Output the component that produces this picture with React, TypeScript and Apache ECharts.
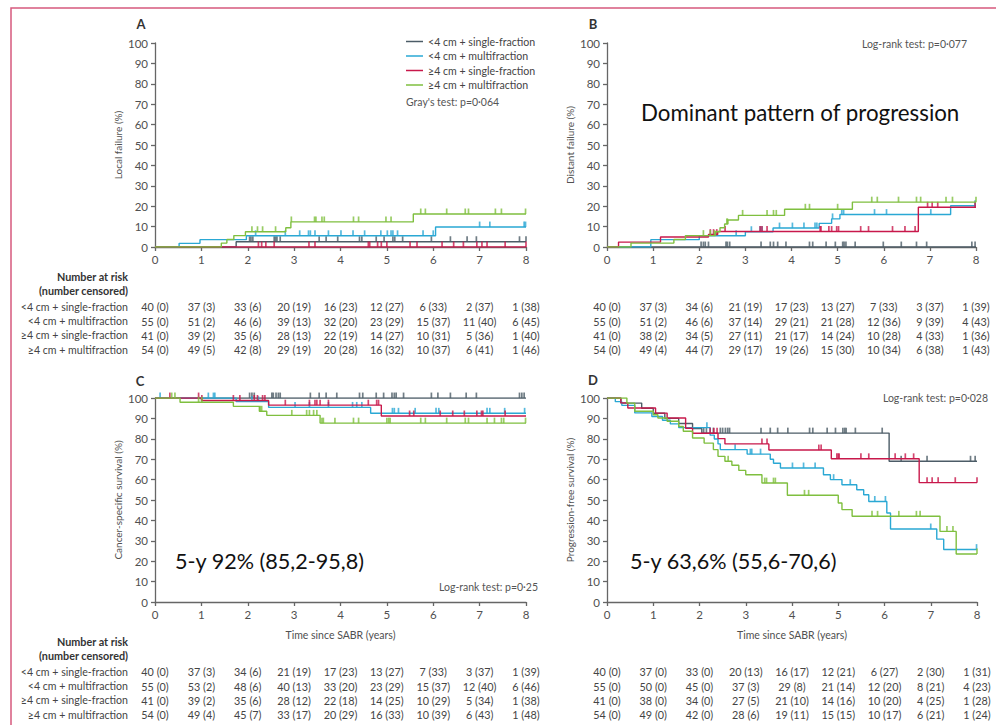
import React, { useEffect, useRef } from "react";
import * as echarts from "echarts";

const groupNames = ["<4 cm + single-fraction", "<4 cm + multifraction", "≥4 cm + single-fraction", "≥4 cm + multifraction"];
const groupColors = ["#4c5c67", "#2aa8d4", "#c8184b", "#7fbf3f"];
const timeTicks = [0, 1, 2, 3, 4, 5, 6, 7, 8];
const yTitles = ["Local failure (%)", "Distant failure (%)", "Cancer-specific survival (%)", "Progression-free survival (%)"];
const panelLetters = ["A", "B", "C", "D"];

// Panel A – local failure (%)
const aGray = [[0, 0], [1.75, 2.6], [8, 2.6]];
const aGrayCens = [2.04, 2.07, 2.11, 2.57, 2.6, 2.63, 2.7, 3.54, 3.69, 3.94, 4.41, 4.46, 4.77, 4.94, 5.13, 5.17, 5.34, 5.96, 6.37, 6.73, 6.93, 7.86, 8.0];
const aCyan = [[0, 0], [0.52, 1.8], [0.97, 3.6], [1.97, 5.5], [6.05, 9.8], [8, 9.8]];
const aCyanCens = [2.17, 2.81, 3.12, 3.31, 3.35, 3.45, 3.74, 4.01, 4.27, 4.52, 4.87, 5.01, 5.09, 5.13, 5.23, 5.78, 6.0, 7.0, 7.22, 7.96, 7.99];
const aRed = [[0, 0], [8, 0]];
const aRedCens = [2.23, 2.3, 2.39, 2.57, 3.32, 3.45, 4.6, 4.63, 4.8, 4.88, 5.0, 5.5, 5.65, 6.19, 6.44, 6.65, 6.94, 7.05, 7.16, 7.55, 8.0];
const aGreen = [[0, 0], [1.43, 1.9], [1.55, 3.7], [1.7, 5.6], [1.95, 7.5], [2.82, 9.4], [2.93, 12.3], [5.57, 16.2], [8, 16.2]];
const aGreenCens = [2.09, 2.21, 2.32, 2.6, 2.94, 3.44, 3.47, 3.6, 3.65, 4.28, 4.39, 4.98, 5.09, 5.73, 5.83, 6.29, 6.69, 6.76, 7.34, 7.47, 7.99];

// Panel B – distant failure (%)
const bGray = [[0, 0], [8, 0]];
const bGrayCens = [2.04, 2.09, 2.13, 2.2, 2.58, 2.61, 2.66, 3.34, 3.54, 3.61, 3.7, 3.88, 4.39, 4.46, 4.75, 4.95, 5.11, 5.14, 5.18, 5.38, 5.99, 6.38, 6.71, 6.93, 7.91, 7.98];
const bCyan = [[0, 0], [0.95, 3.6], [2.0, 5.5], [3.0, 7.5], [3.6, 9.3], [4.6, 11.6], [4.87, 13.8], [5.05, 15.9], [7.45, 20.2], [8, 20.2]];
const bCyanCens = [2.8, 3.13, 3.32, 3.36, 3.74, 4.02, 4.27, 4.51, 4.55, 4.89, 5.09, 5.13, 5.8, 6.06, 7.02, 7.98];
const bRed = [[0, 0], [0.25, 2.4], [1.16, 4.9], [2.2, 6.1], [2.4, 7.6], [6.75, 19.5], [8, 19.5]];
const bRedCens = [2.24, 2.31, 2.38, 2.56, 3.32, 3.36, 3.47, 4.62, 4.64, 4.81, 4.87, 4.98, 5.02, 5.5, 5.67, 6.19, 6.46, 6.68, 6.95, 7.05, 7.17, 7.98];
const bGreen = [[0, 0], [0.52, 1.9], [1.45, 3.7], [1.7, 5.6], [2.35, 7.5], [2.45, 9.4], [2.55, 11.3], [2.62, 13.2], [2.85, 15.5], [3.85, 18.5], [5.32, 22], [8, 22]];
const bGreenCens = [2.09, 2.24, 2.33, 2.6, 2.61, 2.94, 3.47, 3.61, 3.67, 4.3, 4.39, 5.0, 5.74, 5.86, 6.32, 6.71, 6.8, 7.35, 7.49, 8.0];

// Panel C – cancer-specific survival (%)
const cGray = [[0, 100], [8, 100]];
const cGrayCens = [2.04, 2.09, 2.14, 2.52, 2.55, 2.61, 2.66, 2.7, 3.35, 3.54, 3.69, 3.92, 4.41, 4.48, 4.77, 4.93, 5.11, 5.16, 5.2, 5.36, 5.96, 6.1, 6.37, 6.71, 6.93, 7.86, 7.91, 7.96];
const cCyan = [[0, 100], [1.75, 98.2], [2.45, 95.4], [4.65, 92.5], [8, 92.5]];
const cCyanCens = [0.11, 1.15, 1.26, 1.29, 2.09, 2.23, 3.02, 3.33, 3.74, 4.26, 4.35, 4.46, 5.12, 5.16, 5.25, 5.61, 6.06, 6.12, 7.16, 7.22, 7.54, 7.97];
const cRed = [[0, 100], [1.0, 98.8], [2.45, 96.5], [4.88, 91.2], [8, 91.2]];
const cRedCens = [0.32, 0.94, 1.01, 1.69, 1.83, 2.14, 2.21, 2.32, 2.37, 2.81, 3.33, 3.45, 3.49, 3.56, 3.74, 4.6, 4.78, 4.82, 5.49, 5.58, 6.15, 6.42, 6.67, 6.94, 7.04, 7.07, 7.55];
const cGreen = [[0, 100], [0.54, 97.9], [1.69, 95.9], [2.25, 93.5], [2.41, 91.5], [3.56, 87.7], [8, 87.7]];
const cGreenCens = [0.36, 0.43, 0.94, 1.01, 2.27, 2.3, 2.95, 3.27, 3.33, 3.42, 3.49, 3.6, 3.63, 3.88, 4.28, 4.39, 5.0, 5.04, 5.07, 5.73, 5.83, 6.29, 6.69, 6.76, 7.16, 7.32, 7.47, 7.52, 7.99];

// Panel D – progression-free survival (%)
const dGray = [[0, 100], [0.3, 97.5], [0.75, 95], [1.0, 92.5], [1.25, 90], [1.55, 87.5], [1.85, 85], [2.05, 82.8], [6.1, 69], [8, 69]];
const dGrayCens = [2.09, 2.15, 2.3, 2.45, 2.5, 2.56, 2.61, 2.65, 3.33, 3.53, 3.69, 3.91, 4.38, 4.45, 4.76, 4.94, 5.1, 5.14, 5.17, 5.37, 5.95, 6.36, 6.92, 7.86, 7.96];
const dCyan = [[0, 100], [0.18, 98.2], [0.32, 96.4], [0.6, 92.7], [0.97, 90.9], [1.2, 89.1], [1.37, 87.3], [1.55, 85.5], [2.23, 81.8], [2.32, 79.9], [2.4, 77.5], [2.45, 74.7], [3.03, 72.5], [3.53, 70], [3.6, 68], [3.75, 65.7], [4.68, 62.4], [4.83, 60], [5.08, 57.5], [5.4, 55], [5.55, 52.6], [5.66, 49.3], [6.05, 43.6], [6.13, 35.8], [7.13, 30.8], [7.28, 25.7], [8, 25.7]];
const dCyanCens = [2.16, 2.77, 3.1, 3.13, 3.32, 4.01, 4.25, 4.5, 4.9, 5.26, 5.79, 6.02, 7.0, 7.99];
const dRed = [[0, 100], [0.3, 97.6], [0.45, 95.1], [1.05, 92.6], [1.3, 90.2], [1.7, 85.2], [1.85, 82.7], [2.4, 80.1], [2.55, 77.5], [3.5, 74.5], [4.85, 70.2], [6.75, 58.5], [8, 58.5]];
const dRedCens = [2.23, 2.31, 2.38, 3.35, 3.46, 4.58, 4.63, 4.97, 5.0, 5.02, 5.49, 5.66, 6.23, 6.45, 6.63, 6.92, 7.03, 7.16, 7.53, 8.0];
const dGreen = [[0, 100], [0.43, 97.5], [0.6, 93.5], [1.0, 91.8], [1.1, 90.2], [1.3, 88.6], [1.55, 86], [1.65, 83.7], [1.85, 80.4], [2.1, 77.9], [2.3, 74.7], [2.4, 71.4], [2.55, 69], [2.7, 67], [2.85, 64.5], [3.0, 62.4], [3.35, 58.3], [3.9, 52.3], [5.0, 48.5], [5.08, 45.3], [5.3, 42], [7.2, 34.6], [7.55, 23.5], [8, 23.5]];
const dGreenCens = [2.62, 3.41, 3.45, 3.6, 3.64, 4.27, 4.36, 5.73, 5.85, 6.31, 6.69, 6.77, 7.35, 7.48, 8.0];

// Number at risk (number censored)
const riskA = [
  ["40 (0)", "37 (3)", "33 (6)", "20 (19)", "16 (23)", "12 (27)", "6 (33)", "2 (37)", "1 (38)"],
  ["55 (0)", "51 (2)", "46 (6)", "39 (13)", "32 (20)", "23 (29)", "15 (37)", "11 (40)", "6 (45)"],
  ["41 (0)", "39 (2)", "35 (6)", "28 (13)", "22 (19)", "14 (27)", "10 (31)", "5 (36)", "1 (40)"],
  ["54 (0)", "49 (5)", "42 (8)", "29 (19)", "20 (28)", "16 (32)", "10 (37)", "6 (41)", "1 (46)"],
];
const riskB = [
  ["40 (0)", "37 (3)", "34 (6)", "21 (19)", "17 (23)", "13 (27)", "7 (33)", "3 (37)", "1 (39)"],
  ["55 (0)", "51 (2)", "46 (6)", "37 (14)", "29 (21)", "21 (28)", "12 (36)", "9 (39)", "4 (43)"],
  ["41 (0)", "38 (2)", "34 (5)", "27 (11)", "21 (17)", "14 (24)", "10 (28)", "4 (33)", "1 (36)"],
  ["54 (0)", "49 (4)", "44 (7)", "29 (17)", "19 (26)", "15 (30)", "10 (34)", "6 (38)", "1 (43)"],
];
const riskC = [
  ["40 (0)", "37 (3)", "34 (6)", "21 (19)", "17 (23)", "13 (27)", "7 (33)", "3 (37)", "1 (39)"],
  ["55 (0)", "53 (2)", "48 (6)", "40 (13)", "33 (20)", "23 (29)", "15 (37)", "12 (40)", "6 (46)"],
  ["41 (0)", "39 (2)", "35 (6)", "28 (12)", "22 (18)", "14 (25)", "10 (29)", "5 (34)", "1 (38)"],
  ["54 (0)", "49 (4)", "45 (7)", "33 (17)", "20 (29)", "16 (33)", "10 (39)", "6 (43)", "1 (48)"],
];
const riskD = [
  ["40 (0)", "37 (0)", "33 (0)", "20 (13)", "16 (17)", "12 (21)", "6 (27)", "2 (30)", "1 (31)"],
  ["55 (0)", "50 (0)", "45 (0)", "37 (3)", "29 (8)", "21 (14)", "12 (20)", "8 (21)", "4 (23)"],
  ["41 (0)", "38 (0)", "34 (0)", "27 (5)", "21 (10)", "14 (16)", "10 (20)", "4 (25)", "1 (28)"],
  ["54 (0)", "49 (0)", "42 (0)", "28 (6)", "19 (11)", "15 (15)", "10 (17)", "6 (21)", "1 (24)"],
];

const testTexts = ["Gray's test: p=0·064", "Log-rank test: p=0·077", "Log-rank test: p=0·25", "Log-rank test: p=0·028"];
const noteB = "Dominant pattern of progression";
const noteC = "5-y 92% (85,2-95,8)";
const noteD = "5-y 63,6% (55,6-70,6)";

const FONT = "Lato, 'Noto Sans', sans-serif";

function stepAt(curve: number[][], t: number) {
  let v = curve[0][1];
  for (const p of curve) {
    if (p[0] <= t) v = p[1];
    else break;
  }
  return v;
}

export default function App() {
  const ref = useRef<HTMLDivElement>(null);
  useEffect(() => {
    if (!ref.current) return;
    const chart = echarts.init(ref.current, undefined, { renderer: "svg" });

    const layout = [
      { left: 155, top: 43, width: 371, height: 204 },
      { left: 607, top: 43, width: 369, height: 204 },
      { left: 155, top: 398, width: 371, height: 204 },
      { left: 607, top: 398, width: 370, height: 204 },
    ];
    const curves = [
      [aGray, aCyan, aRed, aGreen],
      [bGray, bCyan, bRed, bGreen],
      [cGray, cCyan, cRed, cGreen],
      [dGray, dCyan, dRed, dGreen],
    ];
    const cens = [
      [aGrayCens, aCyanCens, aRedCens, aGreenCens],
      [bGrayCens, bCyanCens, bRedCens, bGreenCens],
      [cGrayCens, cCyanCens, cRedCens, cGreenCens],
      [dGrayCens, dCyanCens, dRedCens, dGreenCens],
    ];
    const risks = [riskA, riskB, riskC, riskD];

    const axisColor = "#666";
    const labelColor = "#505050";

    const series: any[] = [];
    curves.forEach((pc, pi) => {
      pc.forEach((curve, g) => {
        series.push({
          type: "line",
          name: groupNames[g],
          xAxisIndex: pi,
          yAxisIndex: pi,
          data: curve,
          step: "end",
          symbol: "none",
          showSymbol: false,
          lineStyle: { color: groupColors[g], width: 1.4 },
          itemStyle: { color: groupColors[g] },
          z: 2 + g,
          silent: true,
        });
        series.push({
          type: "scatter",
          name: "cens-" + pi + "-" + g,
          xAxisIndex: pi,
          yAxisIndex: pi,
          data: cens[pi][g].map((t) => [t, stepAt(curve, t)]),
          symbol: "rect",
          symbolSize: [1.7, 5.5],
          symbolOffset: [0, -2.7],
          itemStyle: { color: groupColors[g] },
          z: 2 + g,
          silent: true,
        });
      });
    });

    const txt = (text: string, x: number, y: number, o: any = {}) => ({
      type: "text",
      x,
      y,
      silent: true,
      style: {
        text,
        fill: o.fill || "#444",
        fontSize: o.fontSize || 11,
        fontFamily: o.fontFamily || FONT,
        fontWeight: o.fontWeight || "normal",
        align: o.align || "left",
        textAlign: o.align || "left",
        verticalAlign: "middle",
        textVerticalAlign: "middle",
      },
    });

    const graphics: any[] = [];
    graphics.push({
      type: "rect",
      silent: true,
      shape: { x: 11, y: 8, width: 1000, height: 800 },
      style: { fill: "none", stroke: "#d65a7d", lineWidth: 1.5 },
    });
    const letterPos = [[141, 24], [593, 24], [140, 381], [593, 380]];
    panelLetters.forEach((l, i) => {
      graphics.push(txt(l, letterPos[i][0], letterPos[i][1], { fontSize: 13, fontWeight: "bold", fill: "#333", align: "center" }));
    });
    graphics.push(txt(testTexts[0], 406, 102, { fontSize: 10.5, fill: "#555" }));
    graphics.push(txt(testTexts[1], 967, 44, { fontSize: 10.5, fill: "#555", align: "right" }));
    graphics.push(txt(testTexts[2], 538, 587, { fontSize: 10.5, fill: "#555", align: "right" }));
    graphics.push(txt(testTexts[3], 988, 398, { fontSize: 10.5, fill: "#555", align: "right" }));
    graphics.push(txt(noteB, 641, 112, { fontSize: 22.3, fill: "#111", fontFamily: "Lato, sans-serif" }));
    graphics.push(txt(noteC, 175, 561, { fontSize: 21.6, fill: "#111", fontFamily: "Lato, sans-serif" }));
    graphics.push(txt(noteD, 630, 561, { fontSize: 21.6, fill: "#111", fontFamily: "Lato, sans-serif" }));

    // risk tables
    const tableTop = [276, 276, 641, 641];
    risks.forEach((rows, pi) => {
      const L = layout[pi];
      const top = tableTop[pi];
      const rowY = [top + 30.5, top + 45, top + 59.3, top + 73.6];
      if (pi % 2 === 0) {
        graphics.push(txt("Number at risk", 128, top, { fontWeight: "bold", fill: "#333", fontSize: 10.8, align: "right" }));
        graphics.push(txt("(number censored)", 128, top + 14.5, { fontWeight: "bold", fill: "#333", fontSize: 10.8, align: "right" }));
        groupNames.forEach((n, g) => graphics.push(txt(n, 128, rowY[g], { fill: "#444", fontSize: 10.6, align: "right" })));
      }
      rows.forEach((row, g) => {
        row.forEach((cell, k) => {
          const x = L.left + (timeTicks[k] / 8) * L.width;
          graphics.push(txt(cell, x, rowY[g], { fill: "#444", fontSize: 10.8, align: "center" }));
        });
      });
    });

    const option: any = {
      animation: false,
      backgroundColor: "#fff",
      grid: layout.map((l) => ({ left: l.left, top: l.top, width: l.width, height: l.height, containLabel: false })),
      xAxis: layout.map((_, i) => ({
        type: "value",
        gridIndex: i,
        min: 0,
        max: 8,
        interval: 1,
        name: i >= 2 ? "Time since SABR (years)" : "",
        nameLocation: "middle",
        nameGap: 27,
        nameTextStyle: { fontSize: 10.5, color: labelColor, fontFamily: FONT },
        axisLine: { show: true, onZero: false, lineStyle: { color: axisColor, width: 1.3 } },
        axisTick: { show: true, length: 4, lineStyle: { color: axisColor, width: 1.3 } },
        axisLabel: { fontSize: 11.5, color: labelColor, margin: 6, fontFamily: FONT },
        splitLine: { show: false },
      })),
      yAxis: layout.map((_, i) => ({
        type: "value",
        gridIndex: i,
        min: 0,
        max: 100,
        interval: 10,
        name: yTitles[i],
        nameLocation: "middle",
        nameGap: 32,
        nameRotate: 90,
        nameTextStyle: { fontSize: 10, color: labelColor, fontFamily: FONT },
        axisLine: { show: true, onZero: false, lineStyle: { color: axisColor, width: 1.3 } },
        axisTick: { show: true, length: 4, lineStyle: { color: axisColor, width: 1.3 } },
        axisLabel: { fontSize: 11.5, color: labelColor, margin: 7, fontFamily: FONT },
        splitLine: { show: false },
      })),
      legend: {
        data: groupNames.map((n) => ({ name: n, icon: "rect" })),
        orient: "vertical",
        left: 406,
        top: 36,
        padding: 0,
        itemWidth: 17,
        itemHeight: 1.5,
        itemGap: 3.5,
        selectedMode: false,
        textStyle: { fontSize: 10.6, color: "#444", fontFamily: FONT },
      },
      series,
      graphic: { elements: graphics },
    };
    chart.setOption(option);
    return () => chart.dispose();
  }, []);
  return <div ref={ref} style={{ position: "fixed", left: 0, top: 0, width: 996, height: 725 }} />;
}
